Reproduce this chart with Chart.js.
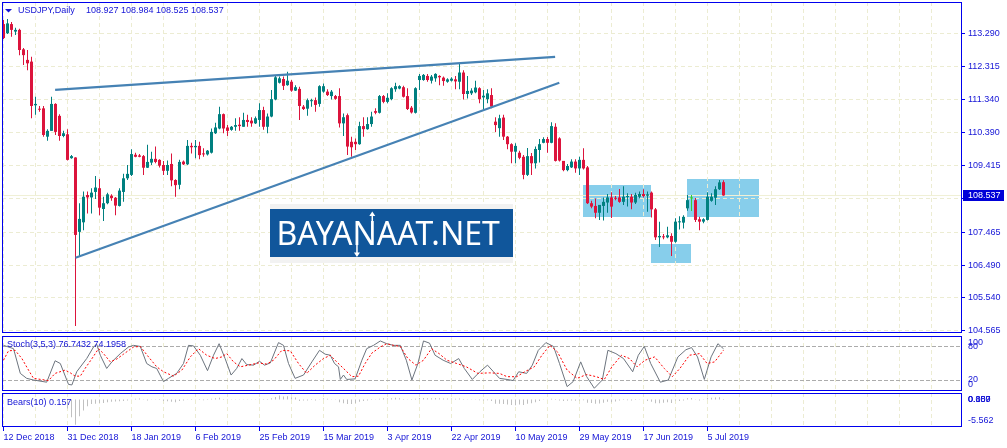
<!DOCTYPE html>
<html>
<head>
<meta charset="utf-8">
<script src="https://cdn.jsdelivr.net/npm/chart.js@4.4.0/dist/chart.umd.min.js"></script>
<style>
html,body{margin:0;padding:0;background:#fff;}
#wrap{position:relative;width:1007px;height:448px;overflow:hidden;background:#fff;}
canvas{position:absolute;left:0;}
</style>
</head>
<body>
<div id="wrap">
<canvas id="main" style="top:0px" width="1007" height="335"></canvas>
<canvas id="stoch" style="top:335px" width="1007" height="57"></canvas>
<canvas id="bears" style="top:392px" width="1007" height="56"></canvas>
</div>
<script>
// daily USDJPY candles, one slot per bar (12 Dec 2018 .. 10 Jul 2019)
var opens = [113.56,113.29,113.56,113.34,113.39,112.82,112.51,112.46,111.18,111.07,
111.09,110.26,110.43,111.22,110.87,110.28,110.33,109.63,109.65,107.47,
107.75,108.55,108.48,108.64,108.75,108.14,108.31,108.53,108.47,108.23,
108.64,109.04,109.14,109.73,109.71,109.69,109.35,109.50,109.61,109.58,
109.43,109.26,109.46,108.99,108.85,109.53,109.45,109.99,109.95,109.99,
109.77,109.74,109.79,110.36,110.50,110.92,110.53,110.46,110.55,110.61,
110.55,110.75,110.73,110.65,110.75,111.04,110.55,110.85,111.35,111.84,
111.95,111.77,111.87,111.61,111.66,111.14,111.08,111.30,111.33,111.22,
111.58,111.58,111.45,111.45,111.45,110.65,110.89,110.11,110.11,110.04,
110.57,110.48,110.63,111.01,110.96,111.45,111.28,111.36,111.65,111.67,
111.71,111.45,111.11,110.96,111.92,111.92,112.04,111.90,111.97,112.04,
111.99,111.87,111.90,111.94,111.87,112.14,111.51,111.53,111.56,111.68,
111.41,111.36,111.48,110.70,110.51,110.82,110.26,110.04,109.82,109.79,
109.67,109.14,109.69,109.48,109.87,110.08,110.19,110.08,110.55,110.21,
109.55,109.28,109.36,109.53,109.33,109.58,109.36,108.31,108.23,108.03,
108.23,108.33,108.48,108.46,108.48,108.35,108.49,108.50,108.33,108.50,
108.58,108.53,108.62,108.13,107.31,107.33,107.31,107.35,107.18,107.75,
107.74,108.16,108.45,108.40,107.84,107.77,107.82,108.38,108.47,108.72,
108.927]
var highs = [113.68,113.71,113.62,113.45,113.42,112.86,112.80,112.60,111.43,111.16,
111.16,110.48,111.43,111.24,110.92,110.43,110.48,109.72,109.66,108.31,
108.65,108.65,108.75,109.11,109.02,108.50,108.62,108.57,108.49,108.75,
109.17,109.43,109.89,109.79,109.75,109.72,110.02,109.82,109.97,109.60,
109.55,109.56,109.77,109.01,109.58,109.56,110.16,110.08,110.16,110.11,
109.92,109.87,110.50,110.67,111.14,110.94,110.60,110.57,110.80,110.83,
110.96,110.90,110.83,110.85,111.24,111.14,110.94,111.63,112.07,112.02,
112.02,112.16,111.92,111.77,111.72,111.19,111.38,111.37,111.41,111.77,
111.82,111.65,111.63,111.48,111.68,110.94,110.94,110.26,110.21,110.70,
110.83,110.83,110.99,111.09,111.48,111.48,111.53,111.71,111.84,111.77,
111.75,111.68,111.16,111.71,112.10,112.10,112.10,112.07,112.12,112.06,
112.02,111.97,112.00,112.04,112.41,112.21,112.04,111.68,111.90,111.71,
111.63,111.65,111.68,110.83,110.90,110.90,110.28,110.07,110.07,109.85,
109.72,109.93,109.78,109.97,110.19,110.24,110.25,110.68,110.65,110.24,
109.55,109.46,109.60,109.60,109.67,109.92,109.40,108.38,108.45,108.26,
108.48,108.58,108.63,108.52,108.73,108.81,108.60,108.58,108.62,108.65,
108.72,108.65,108.65,108.17,107.77,107.41,107.62,107.43,107.87,107.93,
107.96,108.55,108.55,108.46,107.91,107.87,108.63,108.60,108.81,108.99,
108.984]
var lows = [113.12,113.27,113.19,113.24,112.65,112.36,112.21,110.80,110.90,110.99,
110.26,110.14,110.43,110.31,110.14,110.24,109.56,109.61,104.71,106.74,
107.52,108.01,108.01,108.43,107.96,107.79,108.28,108.38,107.96,108.21,
108.35,108.99,109.11,109.66,109.66,109.14,109.34,109.43,109.48,109.36,
109.14,109.14,108.81,108.50,108.72,109.43,109.43,109.77,109.63,109.60,
109.67,109.71,109.77,110.34,110.48,110.36,110.28,110.43,110.43,110.43,
110.55,110.55,110.55,110.63,110.55,110.46,110.36,110.83,111.33,111.82,
111.63,111.75,111.58,111.60,110.75,111.04,110.87,111.14,110.99,111.14,
111.55,111.45,111.35,111.34,110.53,110.28,109.72,109.67,109.87,110.02,
110.26,110.46,110.55,110.92,110.94,111.24,111.24,111.33,111.58,111.65,
111.41,111.04,110.94,110.94,111.63,111.90,111.87,111.82,111.87,111.77,
111.75,111.84,111.88,111.65,111.65,111.35,111.38,111.48,111.53,111.24,
111.06,111.24,111.09,110.40,110.26,110.16,109.89,109.48,109.48,109.60,
109.01,109.11,109.14,109.33,109.50,110.07,109.79,110.07,109.53,109.53,
109.25,109.25,109.34,109.20,109.14,109.30,108.29,108.16,107.87,107.82,
107.80,108.03,107.88,108.40,108.32,108.26,108.21,108.13,108.29,108.45,
108.48,108.06,107.89,107.23,107.03,107.25,107.28,106.76,107.15,107.54,
107.57,108.09,108.08,107.76,107.52,107.72,107.80,108.35,108.26,108.70,
108.525]
var closes = [113.15,113.58,113.39,113.39,112.80,112.65,112.41,111.16,111.22,111.05,
110.31,110.43,111.22,110.40,110.28,110.36,109.58,109.69,107.38,107.85,
108.50,108.48,108.62,108.77,108.18,108.31,108.57,108.46,108.24,108.68,
109.04,109.17,109.75,109.67,109.67,109.35,109.52,109.61,109.52,109.41,
109.26,109.43,108.98,108.84,109.52,109.45,109.99,109.95,109.99,109.72,
109.74,109.85,110.40,110.53,110.92,110.50,110.43,110.55,110.60,110.57,
110.75,110.69,110.65,110.80,111.04,110.55,110.85,111.36,112.00,111.97,
111.75,111.90,111.61,111.71,111.16,111.07,111.33,111.33,111.19,111.74,
111.74,111.48,111.58,111.37,110.65,110.83,109.97,109.95,110.04,110.57,
110.48,110.63,110.85,110.96,111.45,111.28,111.40,111.68,111.74,111.74,
111.43,111.07,110.97,111.68,112.04,112.07,111.92,112.02,112.10,112.00,
111.89,111.94,111.96,111.88,112.14,111.51,111.60,111.61,111.70,111.36,
111.46,111.53,111.14,110.60,110.80,110.26,110.04,109.82,109.99,109.64,
109.14,109.69,109.48,109.90,110.04,110.19,110.08,110.57,109.55,109.56,
109.28,109.40,109.53,109.33,109.58,109.33,108.31,108.21,108.03,108.26,
108.35,108.48,108.21,108.44,108.35,108.50,108.51,108.33,108.55,108.58,
108.52,108.57,108.13,107.31,107.35,107.31,107.37,107.18,107.77,107.77,
107.91,108.40,108.45,107.82,107.77,107.84,108.50,108.50,108.72,108.92,
108.537]

var priceTicks = [113.290, 112.315, 111.340, 110.390, 109.415, 108.440, 107.465, 106.490, 105.540, 104.565]
var bidPrice = 108.537
var dateTickSlots = [0, 16, 32, 48, 64, 80, 96, 112, 128, 144, 160, 176]
var dateTickLabels = ['12 Dec 2018', '31 Dec 2018', '18 Jan 2019', '6 Feb 2019', '25 Feb 2019', '15 Mar 2019',
                      '3 Apr 2019', '22 Apr 2019', '10 May 2019', '29 May 2019', '17 Jun 2019', '5 Jul 2019']

// drawn objects: two trend lines and three boxes (slot / price)
var trendX1 = [12.9, 18.0]
var trendY1 = [111.63, 106.71]
var trendX2 = [137.9, 138.95]
var trendY2 = [112.60, 111.84]
var rectX1 = [144.9, 161.9, 170.9]
var rectX2 = [161.9, 171.9, 188.9]
var rectHigh = [108.84, 107.11, 109.02]
var rectLow = [107.91, 106.54, 107.91]

// Stoch(3,5,3): main and signal, read at their turning points
var stochMainX = [0,2.5,4.2,5.8,7.5,10.8,12.9,14.2,16.25,17.1,18.3,20.8,22.5,23.3,24.2,25.8,27.1,29.2,31.25,32.5,
  34.2,35.8,37.1,38.3,40,41.25,43.3,45,46.25,47.5,49.2,51,52.5,53.9,55.4,56.9,58.3,59.6,60.8,62.5,
  64,65.25,66.7,68.75,70,71.25,72.9,75,77.1,79,80.4,81.7,82.75,83.75,84.2,85,85.8,87.9,89.6,90.8,
  92.5,94.2,95.8,97.5,99.2,100.7,102.1,103.6,105,106.5,107.9,109.9,111.8,113.8,115.2,117.2,119.1,121,122.5,124,
  125.9,127.4,128.8,130.8,132.2,133.7,135.6,137.5,139,140.9,142.4,144.3,145.8,147.7,149.7,151.1,153.1,155,157.3,158.7,
  160.2,161.8,164.2,166.2,168.6,170.6,172,173.5,175.2,176.9,178.6,180]
var stochMainY = [83,77,32,23,20,16,55,50,12,11,35,59,80,85,65,41,53,68,80,83,
  81,50,44,41,17,23,32,50,83,82,65,37,65,86,59,29,41,59,48,47,
  54,47,51,88,83,50,23,29,53,74,67,65,50,44,21,29,21,22,56,77,
  83,91,86,83,83,56,20,50,91,87,65,56,50,59,41,21,35,47,35,23,
  21,19,35,32,47,74,88,81,50,8,17,53,26,5,20,74,68,59,35,65,
  81,50,16,20,62,75,79,62,21,62,86,76.7432]
var stochSigX = [0,1.25,2.9,4.6,6.25,7.5,11.25,12.9,15.4,16.7,17.9,19.2,20.4,22.5,23.75,25,26.7,28.3,30,32.5,
  34.2,36.25,38.3,40,42.5,44.6,46.7,48.75,50.8,52.9,54.6,55.8,57.5,59.2,61.25,63.75,65.8,67.5,69.6,71.7,
  73.75,75.8,77.9,80,81.7,83.3,85,87.1,88.75,90.4,92.1,94.2,95.8,97.5,99.2,
  101.1,103.1,105,107,108.9,110.85,113.3,115.7,118.6,121.5,124,125.9,128.3,130.3,132.7,134.6,136.6,138.5,140.9,143.4,
  145.8,148.2,150.2,152.1,154.5,156.5,158.4,160.4,162.8,165.2,167.2,169.1,171.5,174,175.9,177.8,180]
var stochSigY = [56,73,74,59,38,23,19,32,38,33,27,27,41,63,77,68,53,58,67,80,
  81,62,44,35,27,38,62,77,65,59,62,68,53,44,47,51,49,56,74,73,
  50,32,47,59,65,53,41,26,27,50,69,80,86,83,81,
  59,47,56,77,68,56,50,44,32,33,32,26,26,35,44,65,83,71,38,23,
  30,26,21,44,65,59,44,56,62,41,26,41,65,68,50,53,74.1958]
var stochLevels = [20, 80]
var stochAxisLabels = [100, 80, 20, 0]

// Bears(10) histogram, one value per slot
var bearsVals = [null,null,null,null,null,null,null,null,null,null,
 null,null,null,null,null,null,-2.0,-3.9,-5.562,-3.7,
 -2.4,-1.5,-1.0,-0.9,-0.75,-0.75,-0.6,-0.5,-0.4,-0.35,
 -0.3,-0.2,0.1,0.2,0.25,0.1,-0.2,0.1,0.1,-0.1,
 -0.3,-0.35,-0.5,-0.6,-0.3,-0.2,0.1,0.15,0.1,-0.1,
 -0.15,-0.1,0.2,0.3,0.4,0.15,-0.1,0.05,0.1,0.05,
 0.1,0.05,0.05,0.1,0.2,-0.1,-0.1,0.3,0.6,0.889,
 0.7,0.75,0.5,0.45,-0.3,-0.2,-0.2,-0.1,-0.2,0.1,
 0.3,0.2,0.1,0.05,-0.6,-0.8,-1.0,-1.0,-0.8,-0.5,
 -0.3,-0.2,-0.1,0.1,0.2,0.3,0.25,0.3,0.4,0.3,
 0.15,0.05,-0.1,0.2,0.35,0.35,0.3,0.3,0.35,0.3,
 0.25,0.25,0.25,0.2,0.25,-0.1,0.05,0.05,0.1,-0.15,
 -0.2,-0.15,-0.3,-0.9,-0.95,-1.0,-1.1,-1.2,-1.25,-1.1,
 -1.2,-0.9,-0.8,-0.6,-0.3,0.1,0.05,0.2,-0.1,-0.2,
 -0.3,-0.25,-0.2,-0.25,-0.2,-0.15,-0.7,-0.75,-0.9,-0.85,
 -0.7,-0.5,-0.6,-0.4,-0.2,-0.1,-0.15,-0.2,-0.1,-0.05,
 0.05,-0.3,-0.5,-0.8,-0.8,-0.7,-0.6,-0.75,-0.2,-0.3,
 -0.2,0.3,0.35,0.1,-0.2,0.05,0.4,0.4,0.45,0.5,
 0.157]
var bearsAxisLabels = ['0.000', '0.157', '0.889', '-5.562']
var bearsAxisValues = [0, 0.157, 0.889, -5.562]

var titleSymbol = 'USDJPY,Daily'
var titleOHLC = '108.927 108.984 108.525 108.537'
var stochTitle = 'Stoch(3,5,3) 76.7432 74.1958'
var bearsTitle = 'Bears(10) 0.157'
var watermark = 'BAYANAAT.NET'

var BLUE = '#0000ee'
var TEXT = '#1414d6'
var GRID = 'rgb(236,236,210)'
var BULL = 'rgb(0,128,128)'
var BEAR = 'rgb(220,20,60)'
var DOJI = 'rgb(50,205,50)'
var FONT = '"Liberation Sans", Arial, sans-serif'
var SLOT_MIN = -0.375, SLOT_MAX = 239.625
var AXIS_W = 45      // width of the right price column
var LABEL_X = 968    // where the terminal starts its right-hand labels

function gridTicks(s) {
    var t = []
    for (var v = 0; v <= SLOT_MAX; v += 8) t.push({value: v})
    s.ticks = t
}

function frame(chart) {
    var ctx = chart.ctx, a = chart.chartArea
    ctx.save()
    ctx.strokeStyle = BLUE
    ctx.lineWidth = 1
    ctx.strokeRect(a.left + 0.5, a.top + 0.5, a.width - 1, a.height - 1)
    ctx.restore()
}

// value labels on the right, pushed inside the panel like the terminal does
function rightLabels(chart, values, labels, clamp) {
    var ctx = chart.ctx, a = chart.chartArea, y = chart.scales.y
    ctx.save()
    ctx.font = '9px ' + FONT
    ctx.fillStyle = TEXT
    ctx.textBaseline = 'middle'
    ctx.textAlign = 'left'
    for (var i = 0; i < values.length; i++) {
        var py = y.getPixelForValue(values[i])
        if (clamp) py = Math.min(Math.max(py, a.top + 6.5), a.bottom - 6.5)
        ctx.fillText(labels[i], LABEL_X, py)
    }
    ctx.restore()
}

function leftTitle(chart, txt, dy) {
    var ctx = chart.ctx, a = chart.chartArea
    ctx.save()
    ctx.font = '9px ' + FONT
    ctx.fillStyle = TEXT
    ctx.textBaseline = 'middle'
    ctx.textAlign = 'left'
    ctx.fillText(txt, 7, a.top + dy)
    ctx.restore()
}

var slotAxis = function(extra) {
    var o = {
        type: 'linear', min: SLOT_MIN, max: SLOT_MAX, bounds: 'data', offset: false,
        afterBuildTicks: gridTicks,
        ticks: {display: false},
        grid: {color: GRID, drawTicks: false, offset: false},
        border: {display: false, dash: [4, 3]}
    }
    for (var k in extra) o[k] = extra[k]
    return o
}

// ---------- main price panel ----------
var candleColors = opens.map(function(o, i) {
    return closes[i] > o ? BULL : (closes[i] < o ? BEAR : DOJI)
})

var mainDecor = {
    id: 'mainDecor',
    beforeDraw: function(chart) {
        var ctx = chart.ctx, x = chart.scales.x, y = chart.scales.y
        ctx.save()
        ctx.fillStyle = 'rgb(135,206,235)'
        for (var i = 0; i < rectX1.length; i++) {
            var x1 = x.getPixelForValue(rectX1[i]), x2 = x.getPixelForValue(rectX2[i])
            var y1 = y.getPixelForValue(rectHigh[i]), y2 = y.getPixelForValue(rectLow[i])
            ctx.fillRect(Math.round(x1), Math.round(y1), Math.round(x2 - x1), Math.round(y2 - y1))
        }
        ctx.restore()
    },
    beforeDatasetsDraw: function(chart) {
        var ctx = chart.ctx, a = chart.chartArea, y = chart.scales.y
        var py = Math.round(y.getPixelForValue(bidPrice)) + 0.5
        ctx.save()
        ctx.strokeStyle = 'rgb(240,240,214)'
        ctx.lineWidth = 1
        ctx.beginPath()
        ctx.moveTo(a.left, py)
        ctx.lineTo(a.right, py)
        ctx.stroke()
        ctx.restore()
    },
    afterDatasetsDraw: function(chart) {
        var ctx = chart.ctx
        ctx.save()
        ctx.fillStyle = 'rgb(242,242,242)'
        ctx.fillRect(270, 204, 243, 59)
        ctx.fillStyle = '#10569b'
        ctx.fillRect(270, 209, 243, 48)
        ctx.fillStyle = '#ffffff'
        ctx.font = '32px "Noto Sans"'
        ctx.textBaseline = 'alphabetic'
        ctx.textAlign = 'left'
        var tx = 276.5, base = 245
        ctx.fillText(watermark, tx, base)
        var nStart = tx + ctx.measureText('BAYA').width
        var nEnd = tx + ctx.measureText('BAYAN').width
        var lx = nStart + 4.5, rx = nEnd - 4.5
        ctx.strokeStyle = '#ffffff'
        ctx.lineWidth = 1.5
        ctx.beginPath()
        ctx.moveTo(rx, 222); ctx.lineTo(rx, 214)
        ctx.moveTo(lx, 245); ctx.lineTo(lx, 254)
        ctx.stroke()
        ctx.beginPath()
        ctx.moveTo(rx, 211.5); ctx.lineTo(rx - 3, 216); ctx.lineTo(rx + 3, 216); ctx.closePath()
        ctx.moveTo(lx, 257); ctx.lineTo(lx - 3, 252.5); ctx.lineTo(lx + 3, 252.5); ctx.closePath()
        ctx.fill()
        ctx.restore()
    },
    afterDraw: function(chart) {
        var ctx = chart.ctx, y = chart.scales.y
        frame(chart)
        rightLabels(chart, priceTicks, priceTicks.map(function(v) { return v.toFixed(3) }), false)
        ctx.save()
        // title
        ctx.fillStyle = TEXT
        ctx.beginPath()
        ctx.moveTo(5, 9); ctx.lineTo(12, 9); ctx.lineTo(8.5, 12.5); ctx.closePath()
        ctx.fill()
        ctx.font = '9px ' + FONT
        ctx.textBaseline = 'middle'
        ctx.textAlign = 'left'
        ctx.fillText(titleSymbol, 18, 11)
        ctx.fillText(titleOHLC, 86, 11)
        // bid price label
        var py = Math.round(y.getPixelForValue(bidPrice))
        ctx.fillStyle = '#0000d8'
        ctx.fillRect(LABEL_X - 5, py - 5, 41, 11)
        ctx.fillStyle = '#ffffff'
        ctx.fillText(bidPrice.toFixed(3), LABEL_X, py + 0.5)
        ctx.restore()
    }
}

new Chart(document.getElementById('main'), {
    type: 'bar',
    data: {
        datasets: [
            {type: 'line', data: [{x: trendX1[0], y: trendY1[0]}, {x: trendX2[0], y: trendY2[0]}],
             borderColor: 'rgb(70,130,180)', borderWidth: 2.2, pointRadius: 0, order: 0},
            {type: 'line', data: [{x: trendX1[1], y: trendY1[1]}, {x: trendX2[1], y: trendY2[1]}],
             borderColor: 'rgb(70,130,180)', borderWidth: 2.2, pointRadius: 0, order: 0},
            {data: opens.map(function(o, i) { return {x: i, y: [o, closes[i]]} }),
             backgroundColor: candleColors, barThickness: 3, minBarLength: 1, grouped: false,
             inflateAmount: 0, order: 1},
            {data: lows.map(function(l, i) { return {x: i, y: [l, highs[i]]} }),
             backgroundColor: candleColors, barThickness: 1, grouped: false, inflateAmount: 0, order: 2}
        ]
    },
    options: {
        responsive: false, animation: false,
        layout: {padding: {left: 2, top: 2, right: 0, bottom: 2}},
        plugins: {legend: {display: false}, tooltip: {enabled: false}},
        scales: {
            x: slotAxis({afterFit: function(s) { s.height = 0; s.paddingLeft = 0; s.paddingRight = 0 }}),
            y: {
                position: 'right', min: 104.506, max: 114.207, bounds: 'data',
                afterBuildTicks: function(s) { s.ticks = priceTicks.map(function(v) { return {value: v} }) },
                afterFit: function(s) { s.width = AXIS_W; s.paddingTop = 0; s.paddingBottom = 0 },
                ticks: {display: false},
                grid: {color: GRID, tickColor: BLUE, tickLength: 3, tickBorderDash: []},
                border: {display: false, dash: [4, 3]}
            }
        }
    },
    plugins: [mainDecor]
})

// ---------- stochastic panel ----------
new Chart(document.getElementById('stoch'), {
    type: 'line',
    data: {
        datasets: [
            {data: stochSigX.map(function(x, i) { return {x: x, y: stochSigY[i]} }),
             borderColor: 'rgb(255,0,0)', borderWidth: 1, borderDash: [2, 2], pointRadius: 0, tension: 0},
            {data: stochMainX.map(function(x, i) { return {x: x, y: stochMainY[i]} }),
             borderColor: 'rgb(108,116,126)', borderWidth: 1, pointRadius: 0, tension: 0}
        ]
    },
    options: {
        responsive: false, animation: false,
        layout: {padding: {left: 2, top: 1, right: 0, bottom: 1}},
        plugins: {legend: {display: false}, tooltip: {enabled: false}},
        scales: {
            x: slotAxis({afterFit: function(s) { s.height = 0; s.paddingLeft = 0; s.paddingRight = 0 }}),
            y: {
                position: 'right', min: 0, max: 100, bounds: 'data',
                afterBuildTicks: function(s) { s.ticks = stochLevels.map(function(v) { return {value: v} }) },
                afterFit: function(s) { s.width = AXIS_W; s.paddingTop = 0; s.paddingBottom = 0 },
                ticks: {display: false},
                grid: {color: 'rgb(172,172,172)', drawTicks: false},
                border: {display: false, dash: [4, 2]}
            }
        }
    },
    plugins: [{
        id: 'stochDecor',
        afterDraw: function(chart) {
            frame(chart)
            leftTitle(chart, stochTitle, 9)
            rightLabels(chart, stochAxisLabels, stochAxisLabels.map(String), true)
        }
    }]
})

// ---------- bears power panel + date axis ----------
var bearsData = []
bearsVals.forEach(function(v, i) { if (v !== null) bearsData.push({x: i, y: v}) })

new Chart(document.getElementById('bears'), {
    type: 'bar',
    data: {
        datasets: [{data: bearsData, backgroundColor: 'rgb(192,192,192)', barThickness: 1,
                    grouped: false, inflateAmount: 0}]
    },
    options: {
        responsive: false, animation: false,
        layout: {padding: {left: 2, top: 1, right: 0, bottom: 0}},
        plugins: {legend: {display: false}, tooltip: {enabled: false}},
        scales: {
            x: slotAxis({
                afterFit: function(s) { s.height = 21; s.paddingLeft = 0; s.paddingRight = 0 },
                ticks: {display: true, autoSkip: false, maxRotation: 0, align: 'start', padding: 1,
                        color: TEXT, font: {family: FONT, size: 9},
                        callback: function(v) {
                            var k = dateTickSlots.indexOf(v)
                            return k < 0 ? '' : dateTickLabels[k]
                        }},
                grid: {color: GRID, offset: false, tickLength: 4, tickBorderDash: [],
                       tickColor: function(c) {
                           return (c.tick && dateTickSlots.indexOf(c.tick.value) >= 0) ? BLUE : 'rgba(0,0,0,0)'
                       }}
            }),
            y: {
                position: 'right', min: -6.08, max: 1.46, bounds: 'data',
                afterFit: function(s) { s.width = AXIS_W; s.paddingTop = 0; s.paddingBottom = 0 },
                ticks: {display: false},
                grid: {display: false},
                border: {display: false}
            }
        }
    },
    plugins: [{
        id: 'bearsDecor',
        afterDraw: function(chart) {
            frame(chart)
            leftTitle(chart, bearsTitle, 10)
            rightLabels(chart, bearsAxisValues, bearsAxisLabels, true)
        }
    }]
})
</script>
</body>
</html>
